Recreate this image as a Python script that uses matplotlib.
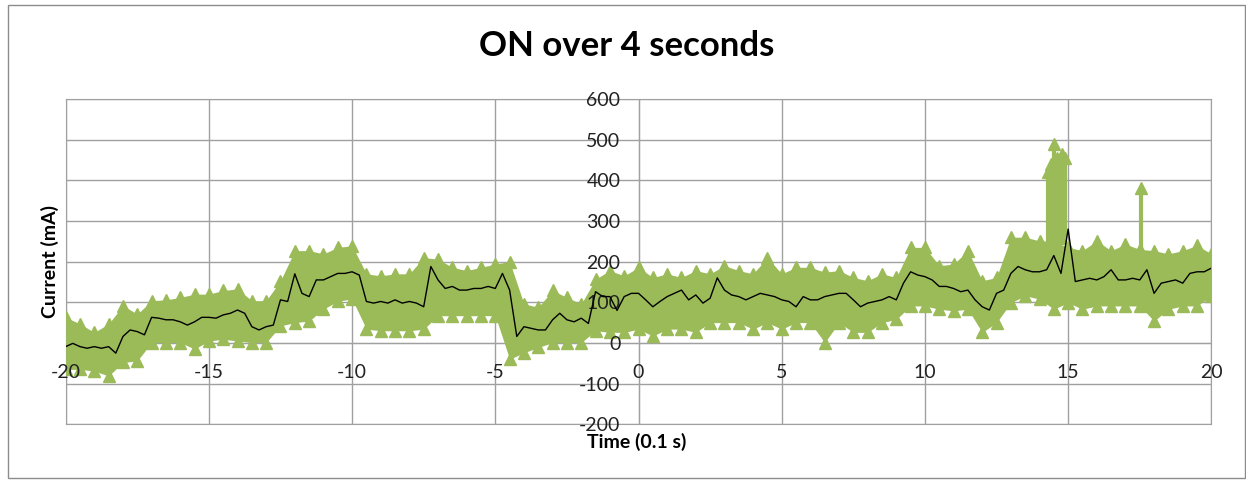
import numpy as np
import matplotlib
matplotlib.use("Agg")
import matplotlib.pyplot as plt
from matplotlib.patches import Rectangle

plt.rcParams["font.family"] = ["Lato", "DejaVu Sans"]
plt.rcParams["axes.unicode_minus"] = False

# ── Data ──────────────────────────────────────────────────────
# black trace, one value every 0.25 time units from -20 to 20
black = [
    -9, -1, -9, -13,
    -9, -13, -9, -25,
    16, 32, 28, 20,
    63, 61, 57, 57,
    52, 44, 52, 63,
    63, 61, 69, 73,
    81, 73, 40, 32,
    40, 44, 106, 102,
    170, 122, 114, 155,
    155, 163, 171, 171,
    175, 167, 102, 98,
    102, 98, 106, 98,
    102, 98, 89, 188,
    155, 134, 139, 130,
    130, 134, 134, 139,
    134, 171, 130, 16,
    40, 36, 32, 32,
    57, 73, 57, 52,
    61, 48, 126, 114,
    114, 80, 114, 122,
    122, 106, 89, 102,
    114, 122, 130, 106,
    118, 98, 110, 160,
    130, 118, 114, 106,
    114, 122, 118, 114,
    106, 102, 89, 114,
    106, 106, 114, 118,
    122, 122, 106, 89,
    98, 102, 106, 114,
    106, 147, 175, 167,
    163, 155, 139, 139,
    134, 126, 130, 106,
    89, 81, 122, 130,
    171, 188, 180, 175,
    175, 180, 215, 171,
    280, 151, 155, 159,
    155, 163, 180, 155,
    155, 159, 155, 180,
    122, 147, 151, 155,
    147, 171, 175, 175,
    184,
]

# green raw samples: upper and lower edge, one value every 0.5 time units
green_hi = [
    63, 47, 26, 47, 92, 71, 104, 106, 112, 120,
    120, 129, 133, 104, 104, 153, 227, 227, 219, 235,
    239, 170, 165, 170, 170, 210, 206, 186, 178, 186,
    194, 200, 96, 88, 129, 112, 96, 157, 178, 165,
    186, 161, 170, 161, 178, 170, 190, 178, 170, 210,
    170, 186, 186, 174, 178, 161, 153, 170, 161, 235,
    235, 190, 194, 227, 153, 161, 260, 260, 251, 250,
    235, 227, 251, 227, 243, 230, 227, 219, 227, 240,
    219,
]
green_lo = [
    -65, -65, -69, -81, -48, -44, 1, 1, 1, -15,
    5, 9, 5, 1, 1, 42, 50, 54, 83, 103,
    108, 34, 30, 30, 30, 34, 67, 67, 67, 67,
    67, -40, -24, -11, 1, 1, 1, 30, 26, 26,
    34, 17, 34, 34, 26, 50, 50, 50, 34, 50,
    34, 50, 50, 1, 50, 26, 26, 50, 58, 91,
    91, 83, 79, 83, 26, 50, 99, 116, 108, 83,
    99, 83, 91, 91, 91, 91, 54, 83, 91, 91,
    116,
]

# isolated tall samples
spike_t = [14.3, 14.4, 14.5, 14.6, 14.7, 14.8, 14.9, 17.55]
spike_top = [420, 440, 490, 455, 430, 465, 455, 380]
spike_base = [240, 240, 240, 240, 240, 240, 240, 220]

t_black = -20 + 0.25 * np.arange(len(black))
t_green = -20 + 0.5 * np.arange(len(green_hi))

GREEN = "#9bbb59"
GRID = "#a0a0a0"
RECT = [0.0527, 0.1215, 0.9195, 0.6737]
XTICKS = range(-20, 21, 5)
YTICKS = range(-200, 601, 100)

# ── Chart ─────────────────────────────────────────────────────
fig = plt.figure(figsize=(12.46, 4.83), dpi=100)

# background axes: gridlines only
bg = fig.add_axes(RECT)
bg.set_xlim(-20, 20)
bg.set_ylim(-200, 600)
bg.set_xticks(XTICKS)
bg.set_yticks(YTICKS)
bg.grid(True, color=GRID, lw=1)
bg.tick_params(length=0, labelbottom=False, labelleft=False)
for s in bg.spines.values():
    s.set_color(GRID)

# front axes: data, centred axis lines and labels
ax = fig.add_axes(RECT)
ax.patch.set_visible(False)
ax.set_axisbelow(False)

ax.fill_between(t_green, green_lo, green_hi, color=GREEN, lw=0, zorder=2)
ax.plot(t_green, green_hi, "^", color=GREEN, ms=8, zorder=2)
ax.plot(t_green, green_lo, "^", color=GREEN, ms=8, zorder=2)
ax.vlines(spike_t, spike_base, spike_top, color=GREEN, lw=3, zorder=2)
ax.plot(spike_t, spike_top, "^", color=GREEN, ms=8, zorder=2)
ax.plot(t_black, black, color="black", lw=1, zorder=3)

ax.set_xlim(-20, 20)
ax.set_ylim(-200, 600)
ax.set_xticks(XTICKS)
ax.set_yticks(YTICKS)

for s in ["top", "right"]:
    ax.spines[s].set_visible(False)
ax.spines["left"].set_position(("data", 0))
ax.spines["bottom"].set_position(("data", 0))
for s in ["left", "bottom"]:
    ax.spines[s].set_color(GRID)
    ax.spines[s].set_zorder(1)

ax.tick_params(length=0, labelsize=14, labelcolor="#222222")
ax.tick_params(axis="x", pad=15)
ax.tick_params(axis="y", pad=13)

fig.text(627 / 1246, 1 - 46 / 483, "ON over 4 seconds", fontsize=25,
         fontweight="bold", ha="center", va="center")
fig.text(50 / 1246, 1 - 262 / 483, "Current (mA)", fontsize=14,
         fontweight="bold", rotation=90, ha="center", va="center")
fig.text(637 / 1246, 1 - 442 / 483, "Time (0.1 s)", fontsize=14,
         fontweight="bold", ha="center", va="center")

fig.patches.append(Rectangle((8 / 1246, 5 / 483), 1237 / 1246, 473 / 483,
                             transform=fig.transFigure, fill=False,
                             edgecolor="#8c8c8c", lw=1))

fig.savefig("out.png", dpi=100)
